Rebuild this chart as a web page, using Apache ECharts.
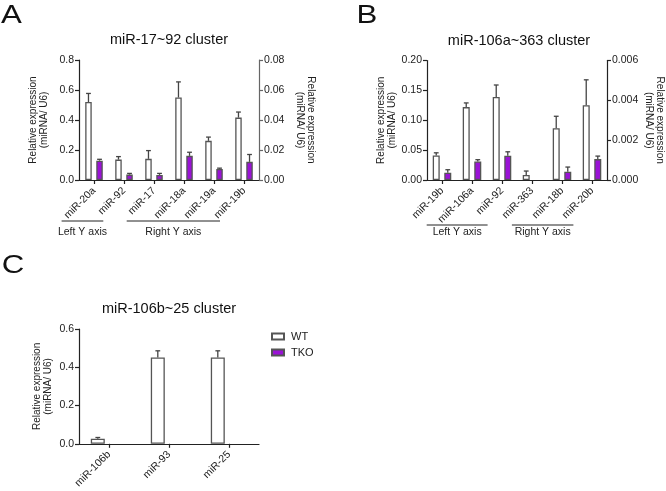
<!DOCTYPE html>
<html><head><meta charset="utf-8">
<script src="https://cdn.jsdelivr.net/npm/echarts@6/dist/echarts.min.js"></script>
<style>html,body{margin:0;padding:0;background:#fff}#c{width:666px;height:491px}</style>
</head><body><div id="c"></div>
<script>
// ---------------- DATA ----------------
// side: 0 = plotted on left Y axis, 1 = plotted on right Y axis
const catsA = ['miR-20a', 'miR-92', 'miR-17', 'miR-18a', 'miR-19a', 'miR-19b'];
const sideA = [0, 0, 1, 1, 1, 1];
const wtA = [0.520, 0.136, 0.0141, 0.0550, 0.0261, 0.0416];
const wtErrA = [0.057, 0.020, 0.0055, 0.0104, 0.0025, 0.0037];
const tkoA = [0.129, 0.036, 0.0034, 0.0161, 0.0074, 0.0121];
const tkoErrA = [0.009, 0.008, 0.0010, 0.0024, 0.0005, 0.0049];
const ticksA_left = [0, 0.8, 0.2];    // min, max, step
const ticksA_right = [0, 0.08, 0.02];

const catsB = ['miR-19b', 'miR-106a', 'miR-92', 'miR-363', 'miR-18b', 'miR-20b'];
const sideB = [0, 0, 0, 1, 1, 1];
const wtB = [0.0411, 0.122, 0.139, 0.00025, 0.0026, 0.00375];
const wtErrB = [0.0044, 0.007, 0.020, 0.0002, 0.0006, 0.00128];
const tkoB = [0.0122, 0.031, 0.0406, null, 0.00042, 0.00105];
const tkoErrB = [0.005, 0.003, 0.0066, null, 0.00023, 0.00015];
const ticksB_left = [0, 0.20, 0.05];
const ticksB_right = [0, 0.006, 0.002];

const catsC = ['miR-106b', 'miR-93', 'miR-25'];
const sideC = [0, 0, 0];
const wtC = [0.027, 0.451, 0.451];
const wtErrC = [0.006, 0.035, 0.035];
const tkoC = [null, null, null];
const tkoErrC = [null, null, null];
const ticksC_left = [0, 0.6, 0.2];

const groups = ['WT', 'TKO'];
const titles = ['miR-17~92 cluster', 'miR-106a~363 cluster', 'miR-106b~25 cluster'];
const yName = 'Relative expression\n(miRNA/ U6)';

// ---------------- STYLE / LAYOUT ----------------
const FONT = '"Liberation Sans", Arial, Helvetica, sans-serif';
const TXT = '#222';
const fills = { WT: '#ffffff', TKO: '#9a12d6' };
const BORDER = '#555';

const panels = [
  { id: 'A', cats: catsA, side: sideA, wt: wtA, wtErr: wtErrA, tko: tkoA, tkoErr: tkoErrA,
    grid: { left: 79, top: 60, width: 180, height: 120 },
    left: { t: ticksA_left, dec: 1, gap: 29 }, right: { t: ticksA_right, dec: 2, gap: 35.5, color: '#666' },
    barW: 6.5, barGap: 0.7, letter: ['A', 11.5, 16], title: [169, 39.5],
    brLine: 41, brText: 52,
    brackets: [['Left Y axis', -0.58, 0.81], ['Right Y axis', 1.59, 4.7]] },
  { id: 'B', cats: catsB, side: sideB, wt: wtB, wtErr: wtErrB, tko: tkoB, tkoErr: tkoErrB,
    grid: { left: 427, top: 60.5, width: 182, height: 119.5 },
    left: { t: ticksB_left, dec: 2, gap: 27.5 }, right: { t: ticksB_right, dec: 3, gap: 36, color: '#222' },
    barW: 7, barGap: 0.65, letter: ['B', 367, 16], title: [519, 40.5],
    brLine: 45, brText: 52,
    brackets: [['Left Y axis', -0.01, 2.02], ['Right Y axis', 2.83, 4.88]] },
  { id: 'C', cats: catsC, side: sideC, wt: wtC, wtErr: wtErrC, tko: tkoC, tkoErr: tkoErrC,
    grid: { left: 79, top: 329, width: 180, height: 119.7 },
    left: { t: ticksC_left, dec: 1, gap: 25.5 }, right: null,
    barW: 14, barGap: 0.6, letter: ['C', 13, 265.5], title: [169, 309],
    brackets: [] }
];

const grids = [], xAxes = [], yAxes = [], series = [];

function yAxisDef(gi, cfg, pos) {
  return {
    type: 'value', gridIndex: gi, position: pos,
    min: cfg.t[0], max: cfg.t[1], interval: cfg.t[2],
    name: yName, nameLocation: 'middle', nameGap: cfg.gap, nameRotate: pos === 'left' ? 90 : -90,
    nameTextStyle: { fontFamily: FONT, fontSize: 10, color: TXT, lineHeight: 11 },
    axisLine: { show: true, lineStyle: { color: cfg.color || '#222', width: 1.2 } },
    axisTick: { show: true, length: 4, lineStyle: { color: cfg.color || '#222', width: 1.2 } },
    splitLine: { show: false },
    axisLabel: { fontFamily: FONT, fontSize: 10.5, color: TXT, margin: 5,
      formatter: v => Number(v).toFixed(cfg.dec) }
  };
}

panels.forEach((p, gi) => {
  grids.push(Object.assign({ containLabel: false }, p.grid));
  xAxes.push({
    type: 'category', gridIndex: gi, data: p.cats,
    axisLine: { show: true, lineStyle: { color: '#222', width: 1.2 } },
    axisTick: { show: true, alignWithLabel: true, length: 4, lineStyle: { color: '#222', width: 1.2 } },
    axisLabel: { rotate: 45, fontFamily: FONT, fontSize: 10.5, color: TXT, margin: 9, interval: 0 },
    splitLine: { show: false }
  });
  p.xi = gi;
  p.yi = [yAxes.length];
  yAxes.push(yAxisDef(gi, p.left, 'left'));
  if (p.right) { p.yi.push(yAxes.length); yAxes.push(yAxisDef(gi, p.right, 'right')); }

  const sides = p.right ? [0, 1] : [0];
  groups.forEach((g, k) => {
    const vals = k === 0 ? p.wt : p.tko;
    sides.forEach(s => {
      series.push({
        type: 'bar', name: g, xAxisIndex: p.xi, yAxisIndex: p.yi[s],
        stack: p.id + '_' + g,
        barWidth: p.barW, barGap: (p.barGap * 100) + '%',
        data: vals.map((v, i) => (p.side[i] === s ? v : null)),
        itemStyle: { color: fills[g], borderColor: BORDER, borderWidth: 1.3 },
        emphasis: { disabled: true }, silent: true
      });
    });
  });
  sides.forEach(s => {
    const rows = [];
    p.cats.forEach((c, i) => {
      if (p.side[i] !== s) return;
      if (p.wt[i] != null) rows.push([i, p.wt[i], p.wtErr[i], 0]);
      if (p.tko[i] != null) rows.push([i, p.tko[i], p.tkoErr[i], 1]);
    });
    const off = p.barW * (1 + p.barGap) / 2;
    series.push({
      type: 'custom', name: 'err' + p.id + s, xAxisIndex: p.xi, yAxisIndex: p.yi[s],
      data: rows, encode: { x: 0, y: 1 }, z: 5, silent: true,
      renderItem: (params, api) => {
        const i = api.value(0), m = api.value(1), e = api.value(2), g = api.value(3);
        const p0 = api.coord([i, m]);
        const p1 = api.coord([i, m + e]);
        const x = p0[0] + (g === 0 ? -off : off);
        const st = { stroke: '#444', lineWidth: 1.3 };
        return { type: 'group', children: [
          { type: 'line', shape: { x1: x, y1: p0[1], x2: x, y2: p1[1] }, style: st },
          { type: 'line', shape: { x1: x - 2.4, y1: p1[1], x2: x + 2.4, y2: p1[1] }, style: st }
        ] };
      }
    });
  });
});

const chart = echarts.init(document.getElementById('c'), null, { renderer: 'canvas' });
chart.setOption({
  animation: false,
  backgroundColor: '#fff',
  textStyle: { fontFamily: FONT },
  grid: grids, xAxis: xAxes, yAxis: yAxes, series: series,
  legend: {
    data: groups, orient: 'vertical', left: 271, top: 331, padding: 0,
    itemWidth: 12, itemHeight: 6, itemGap: 5, icon: 'rect', selectedMode: false,
    textStyle: { fontFamily: FONT, fontSize: 11, color: TXT, padding: [0, 0, 0, 2] }
  }
});

// annotations: panel letters, titles, axis brackets
const gfx = [];
panels.forEach((p, gi) => {
  gfx.push({ type: 'text', x: p.letter[1], y: p.letter[2], scaleX: 1.2,
    style: { text: p.letter[0], font: '26px ' + FONT, fill: '#111', textAlign: 'center', textVerticalAlign: 'middle' } });
  gfx.push({ type: 'text', x: p.title[0], y: p.title[1],
    style: { text: titles[gi], font: '14.5px ' + FONT, fill: '#111', textAlign: 'center', textVerticalAlign: 'middle' } });
  if (p.brackets.length) {
    const c0 = chart.convertToPixel({ xAxisIndex: p.xi }, 0);
    const c1 = chart.convertToPixel({ xAxisIndex: p.xi }, 1);
    const band = c1 - c0, x0 = c0 - band / 2;
    const yb = p.grid.top + p.grid.height;
    p.brackets.forEach(b => {
      const xa = x0 + b[1] * band, xb = x0 + b[2] * band;
      gfx.push({ type: 'line', shape: { x1: xa, y1: yb + p.brLine, x2: xb, y2: yb + p.brLine }, style: { stroke: '#222', lineWidth: 1 } });
      gfx.push({ type: 'text', x: (xa + xb) / 2, y: yb + p.brText,
        style: { text: b[0], font: '10.5px ' + FONT, fill: TXT, textAlign: 'center', textVerticalAlign: 'middle' } });
    });
  }
});
chart.setOption({ graphic: gfx });
</script>
</body></html>
